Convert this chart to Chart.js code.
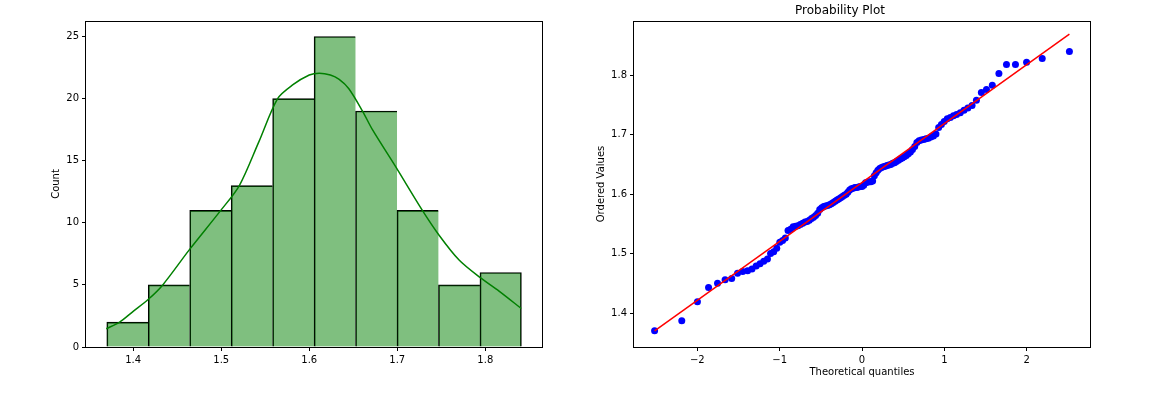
<!DOCTYPE html>
<html>
<head>
<meta charset="utf-8">
<script src="https://cdn.jsdelivr.net/npm/chart.js@4.4.0/dist/chart.umd.min.js"></script>
<style>
  html, body { margin: 0; padding: 0; background: #fff; }
  body { width: 1162px; height: 393px; position: relative; overflow: hidden; }
  canvas { position: absolute; top: 0; }
  #hist { left: 0; }
  #prob { left: 590px; }
</style>
</head>
<body>
<canvas id="hist" width="581" height="393"></canvas>
<canvas id="prob" width="544" height="393"></canvas>
<script>
// ---- left: histogram + kde ----
const binEdges = [1.370, 1.4171, 1.4642, 1.5113, 1.5584, 1.6055, 1.6526, 1.6997, 1.7468, 1.7939, 1.841]
const binCounts = [2, 5, 11, 13, 20, 25, 19, 11, 5, 6]
const kdeX = [1.3694, 1.3846, 1.400, 1.4166, 1.4336, 1.4639, 1.4995, 1.5206, 1.5426, 1.5641,
  1.5811, 1.600, 1.6114, 1.624, 1.634, 1.645, 1.6605, 1.6718, 1.6983, 1.7285,
  1.7475, 1.7702, 1.7939, 1.8156, 1.8408]
const kdeY = [1.47, 2.0, 2.87, 3.8, 5.0, 7.84, 11.0, 13.0, 16.5, 20.0,
  21.1, 21.9, 22.05, 21.9, 21.55, 20.8, 19.0, 17.5, 14.5, 11.0,
  9.0, 7.0, 5.6, 4.5, 3.1]
const histXTicks = [1.4, 1.5, 1.6, 1.7, 1.8]
const histYTicks = [0, 5, 10, 15, 20, 25]

// ---- right: probability plot ----
const quantiles = [
  -2.518, -2.188, -1.998, -1.863, -1.754, -1.662, -1.582, -1.511, -1.449, -1.389,
  -1.336, -1.285, -1.238, -1.193, -1.148, -1.110, -1.072, -1.035, -0.998, -0.964,
  -0.931, -0.898, -0.867, -0.836, -0.806, -0.777, -0.749, -0.720, -0.692, -0.666,
  -0.640, -0.613, -0.588, -0.563, -0.538, -0.513, -0.489, -0.465, -0.442, -0.418,
  -0.395, -0.372, -0.349, -0.326, -0.304, -0.282, -0.259, -0.237, -0.215, -0.193,
  -0.172, -0.150, -0.129, -0.107, -0.086, -0.064, -0.043, -0.021, 0.000, 0.021,
  0.043, 0.064, 0.086, 0.107, 0.129, 0.150, 0.172, 0.193, 0.215, 0.237,
  0.259, 0.282, 0.304, 0.326, 0.349, 0.372, 0.395, 0.418, 0.442, 0.465,
  0.489, 0.513, 0.538, 0.563, 0.588, 0.613, 0.640, 0.666, 0.692, 0.720,
  0.749, 0.777, 0.806, 0.836, 0.867, 0.898, 0.931, 0.964, 0.998, 1.035,
  1.072, 1.110, 1.148, 1.193, 1.238, 1.285, 1.336, 1.389, 1.449, 1.511,
  1.582, 1.662, 1.754, 1.863, 1.998, 2.188, 2.518
]
const ordered = [
  1.370, 1.387, 1.419, 1.443, 1.450, 1.456, 1.458, 1.467, 1.470, 1.471,
  1.474, 1.479, 1.483, 1.487, 1.491, 1.500, 1.503, 1.509, 1.519, 1.522,
  1.526, 1.539, 1.541, 1.545, 1.546, 1.547, 1.549, 1.551, 1.553, 1.554,
  1.556, 1.559, 1.561, 1.564, 1.568, 1.574, 1.577, 1.579, 1.580, 1.581,
  1.582, 1.584, 1.586, 1.588, 1.590, 1.592, 1.594, 1.596, 1.598, 1.600,
  1.603, 1.607, 1.609, 1.610, 1.611, 1.611, 1.612, 1.613, 1.613, 1.615,
  1.619, 1.620, 1.621, 1.621, 1.622, 1.631, 1.636, 1.640, 1.643, 1.645,
  1.646, 1.647, 1.648, 1.649, 1.650, 1.652, 1.653, 1.655, 1.657, 1.659,
  1.661, 1.663, 1.665, 1.668, 1.671, 1.675, 1.680, 1.687, 1.690, 1.691,
  1.692, 1.693, 1.694, 1.696, 1.698, 1.701, 1.712, 1.717, 1.722, 1.727,
  1.729, 1.732, 1.734, 1.737, 1.741, 1.745, 1.749, 1.758, 1.771, 1.776,
  1.783, 1.803, 1.818, 1.818, 1.822, 1.828, 1.840
]
const fitX = [-2.518, 2.518]
const fitY = [1.3698, 1.8694]
const probXTicks = [-2, -1, 0, 1, 2]
const probYTicks = [1.4, 1.5, 1.6, 1.7, 1.8]

Chart.defaults.font.family = "'DejaVu Sans', sans-serif"
Chart.defaults.font.size = 10
Chart.defaults.color = "#000"
Chart.defaults.animation = false

const tickFont = { family: "'DejaVu Sans', sans-serif", size: 10 }

// matplotlib style full box round the axes
const frame = {
  id: "frame",
  afterDraw(chart) {
    const { ctx, chartArea: a } = chart
    ctx.save()
    ctx.strokeStyle = "#000"
    ctx.lineWidth = 1
    ctx.strokeRect(Math.round(a.left) - 0.5, Math.round(a.top) + 0.5,
      Math.round(a.right - a.left) + 1, Math.round(a.bottom - a.top))
    ctx.restore()
  }
}

const axis = (min, max, tickValues, fmt, extra) => Object.assign({
  type: "linear",
  min, max,
  offset: false,
  afterBuildTicks: s => { s.ticks = tickValues.map(v => ({ value: v })) },
  grid: { offset: false, drawOnChartArea: false, drawTicks: true, tickLength: 4, tickColor: "#000", tickWidth: 1 },
  border: { display: false },
  ticks: { color: "#000", font: tickFont, padding: 3, maxRotation: 0, autoSkip: false, callback: fmt }
}, extra)

const minus = v => v < 0 ? "\u2212" + Math.abs(v) : String(v)

new Chart(document.getElementById("hist"), {
  type: "bar",
  data: {
    datasets: [
      {
        type: "line",
        data: kdeX.map((x, i) => ({ x, y: kdeY[i] })),
        borderColor: "#008000",
        borderWidth: 1.5,
        pointRadius: 0,
        tension: 0.3,
        order: 0
      },
      {
        type: "bar",
        data: binCounts.map((c, i) => ({ x: (binEdges[i] + binEdges[i + 1]) / 2, y: c })),
        backgroundColor: "rgba(0,128,0,0.5)",
        borderColor: "#000",
        borderWidth: ctx => ({ top: 1, left: 1, bottom: 0, right: ctx.dataIndex === binCounts.length - 1 ? 1 : 0 }),
        borderSkipped: false,
        barPercentage: 1,
        categoryPercentage: 1,
        grouped: false,
        order: 1
      }
    ]
  },
  options: {
    responsive: false,
    layout: { padding: { top: 21, right: 39, bottom: 0, left: 0 } },
    plugins: { legend: { display: false }, tooltip: { enabled: false } },
    scales: {
      x: axis(1.3464, 1.8644, histXTicks, v => v.toFixed(1), {
        afterFit: s => { s.height = 46 }
      }),
      y: axis(0, 26.25, histYTicks, v => String(v), {
        afterFit: s => { s.width = 86 },
        title: { display: true, text: "Count", font: tickFont, color: "#000", padding: { top: 50.5, bottom: 0 } }
      })
    }
  },
  plugins: [frame]
})

new Chart(document.getElementById("prob"), {
  type: "scatter",
  data: {
    datasets: [
      {
        type: "line",
        data: fitX.map((x, i) => ({ x, y: fitY[i] })),
        borderColor: "#ff0000",
        borderWidth: 1.5,
        pointRadius: 0,
        order: 0
      },
      {
        type: "scatter",
        data: quantiles.map((x, i) => ({ x, y: ordered[i] })),
        backgroundColor: "#0000ff",
        borderWidth: 0,
        pointRadius: 3.5,
        order: 1
      }
    ]
  },
  options: {
    responsive: false,
    layout: { padding: { top: 0, right: 44, bottom: 0, left: 0 } },
    plugins: {
      legend: { display: false },
      tooltip: { enabled: false },
      title: {
        display: true,
        text: "Probability Plot",
        color: "#000",
        font: { family: "'DejaVu Sans', sans-serif", size: 12, weight: "normal" },
        padding: { top: 3.8, bottom: 2.8 }
      }
    },
    scales: {
      x: axis(-2.768, 2.768, probXTicks, minus, {
        afterFit: s => { s.height = 46 },
        title: { display: true, text: "Theoretical quantiles", font: tickFont, color: "#000", padding: { top: 0, bottom: 14.7 } }
      }),
      y: axis(1.3428, 1.8913, probYTicks, v => v.toFixed(1), {
        afterFit: s => { s.width = 44 },
        title: { display: true, text: "Ordered Values", font: tickFont, color: "#000", padding: { top: 5, bottom: 0 } }
      })
    }
  },
  plugins: [frame]
})
</script>
</body>
</html>
